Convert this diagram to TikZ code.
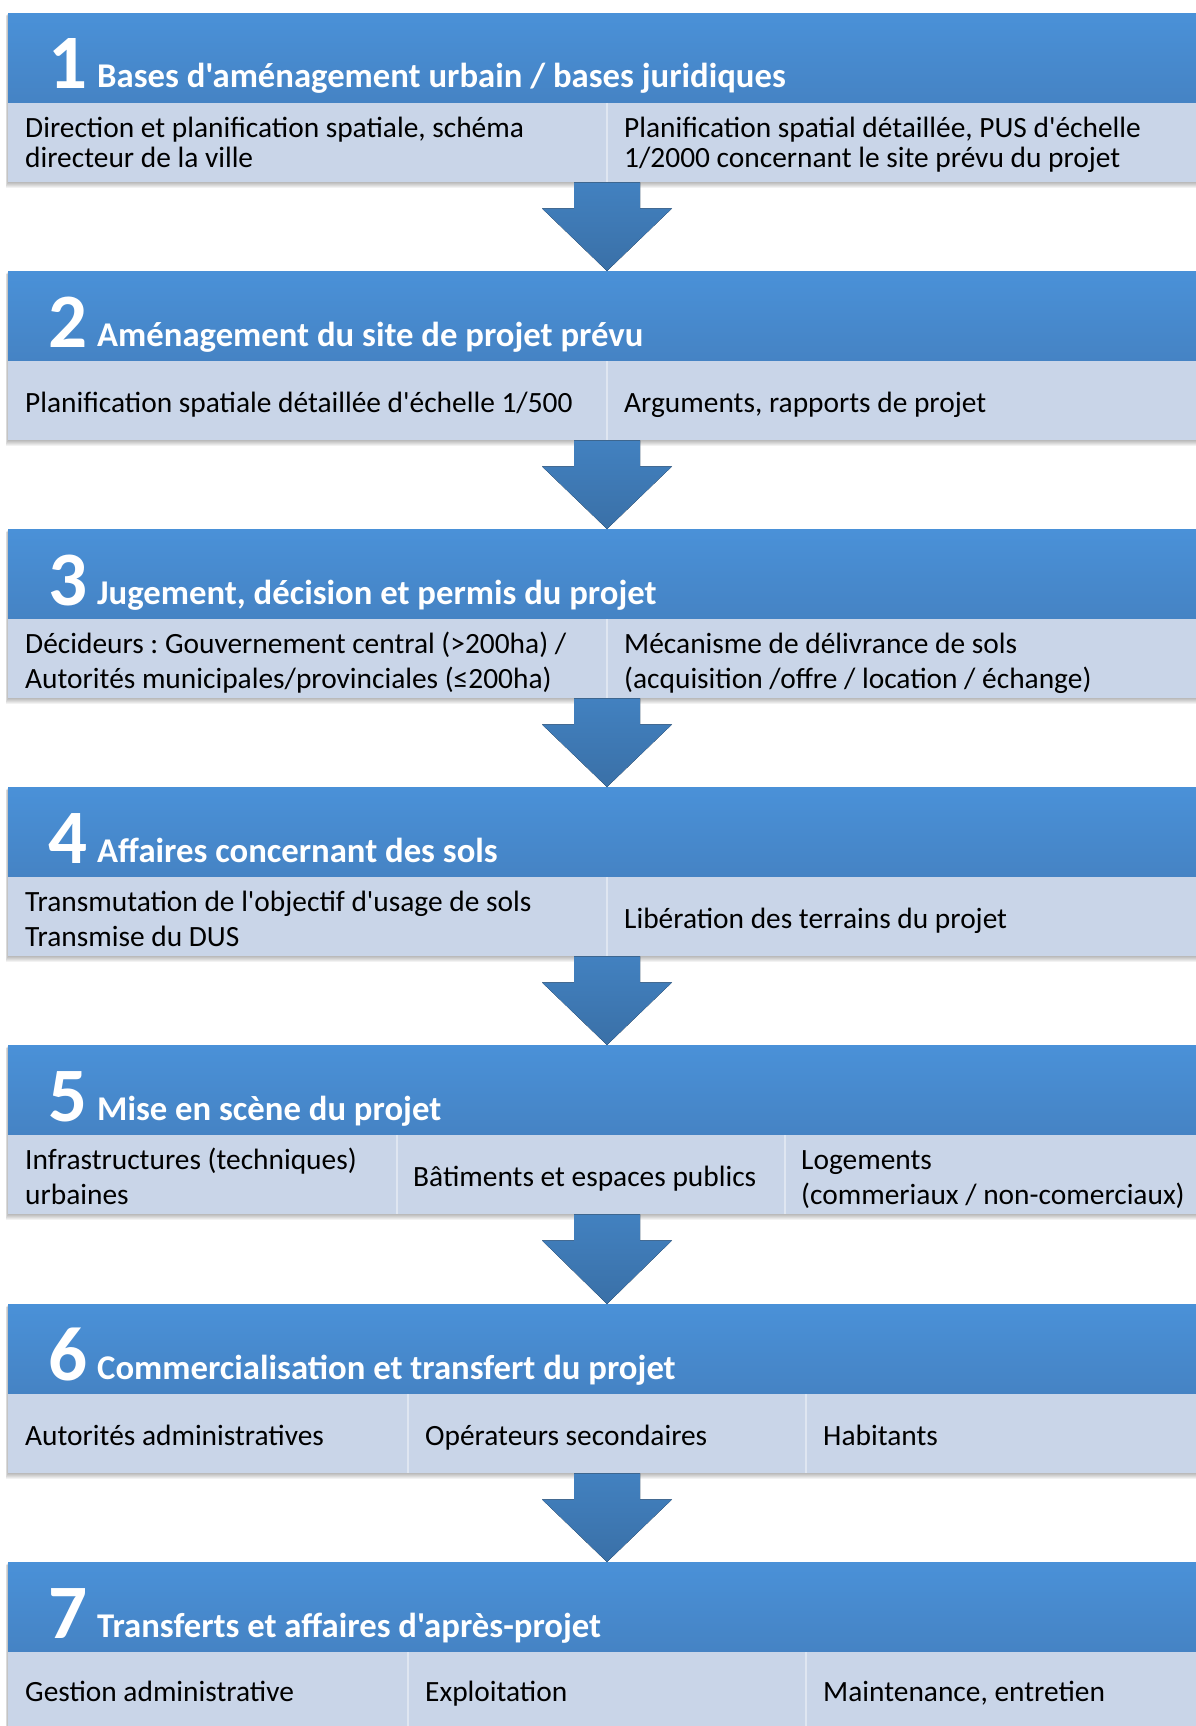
\documentclass[tikz,border=0pt]{standalone}
\usepackage{fontspec}
\setmainfont{Carlito}[Ligatures=TeXOff]
\usetikzlibrary{calc}
\frenchspacing
\definecolor{hdrtop}{HTML}{4A91D8}
\definecolor{hdrbot}{HTML}{4583C4}
\definecolor{subfill}{HTML}{C9D5E8}
\definecolor{divcol}{HTML}{DFE6F1}
\definecolor{arrtop}{HTML}{4281C0}
\definecolor{arrbot}{HTML}{3A70A7}
\tikzset{
 hdr/.style={rectangle, anchor=north west, inner sep=0pt, minimum height=90pt, minimum width=1222pt, top color=hdrtop, bottom color=hdrbot, draw=none},
 cell/.style={rectangle, anchor=north west, inner sep=0pt, minimum height=79pt, fill=subfill, draw=none},
 txt/.style={anchor=west, inner sep=0pt, align=left, text=black, font={\fontsize{29.4}{35}\selectfont\frenchspacing}},
 tight/.style={font={\fontsize{29.4}{29}\selectfont\frenchspacing}},
 num/.style={anchor=base west, inner sep=0pt, text=white, font={\fontsize{77}{77}\selectfont\bfseries}},
 ttl/.style={anchor=base west, inner sep=0pt, text=white, font={\fontsize{34.7}{40}\selectfont\bfseries}},
 divider/.style={draw=divcol, line width=2pt},
 blockarrow/.style={top color=arrtop, bottom color=arrbot, draw=none},
 shadowfill/.style={fill=black, opacity=0.05, draw=none},
}
\begin{document}
\begin{tikzpicture}[x=1pt,y=-1pt]
\useasboundingbox (0,0) rectangle (1196,1726);
\clip (0,0) rectangle (1196,1726);
\coordinate (mid) at (607,0);

% soft shadows of the blocks
\foreach \t/\b in {13/182, 271/440, 529/698, 787/956, 1045/1214, 1304/1473, 1562/1741}{
  \foreach \i in {1,...,6}{
    \fill[shadowfill] (8-\i*0.4, \t+\i*0.5) rectangle (1230, \b+\i);
  }
}

% ---------- block 1
\node[hdr] (h1) at (8,13) {};
\node[cell, minimum width=599pt] (c1a) at (8,103) {};
\node[cell, minimum width=623pt] (c1b) at (607,103) {};
\draw[divider] (c1a.north east) -- (c1a.south east);
\node[num] (n1) at (48,89) {1};
\node[ttl] (l1) at (97,88) {Bases d'aménagement urbain / bases juridiques};
\node[txt, tight] (t1a) at ($(c1a.west)+(17,4)$) {\strut Direction et planification spatiale, schéma\\directeur de la ville\strut};
\node[txt, tight] (t1b) at ($(c1b.west)+(17,4)$) {\strut Planification spatial détaillée, PUS d'échelle\\1/2000 concernant le site prévu du projet\strut};

% ---------- block 2
\node[hdr] (h2) at (8,271) {};
\node[cell, minimum width=599pt] (c2a) at (8,361) {};
\node[cell, minimum width=623pt] (c2b) at (607,361) {};
\draw[divider] (c2a.north east) -- (c2a.south east);
\node[num] (n2) at (48,347) {2};
\node[ttl] (l2) at (97,346) {Aménagement du site de projet prévu};
\node[txt] (t2a) at ($(c2a.west)+(17,5)$) {\strut Planification spatiale détaillée d'échelle 1/500};
\node[txt] (t2b) at ($(c2b.west)+(17,5)$) {\strut Arguments, rapports de projet};

% ---------- block 3
\node[hdr] (h3) at (8,529) {};
\node[cell, minimum width=599pt] (c3a) at (8,619) {};
\node[cell, minimum width=623pt] (c3b) at (607,619) {};
\draw[divider] (c3a.north east) -- (c3a.south east);
\node[num] (n3) at (48,605) {3};
\node[ttl] (l3) at (97,604) {Jugement, décision et permis du projet};
\node[txt] (t3a) at ($(c3a.west)+(17,5)$) {\strut Décideurs : Gouvernement central (>200ha) /\\Autorités municipales/provinciales (≤200ha)\strut};
\node[txt] (t3b) at ($(c3b.west)+(17,5)$) {\strut Mécanisme de délivrance de sols\\(acquisition /offre / location / échange)\strut};

% ---------- block 4
\node[hdr] (h4) at (8,787) {};
\node[cell, minimum width=599pt] (c4a) at (8,877) {};
\node[cell, minimum width=623pt] (c4b) at (607,877) {};
\draw[divider] (c4a.north east) -- (c4a.south east);
\node[num] (n4) at (48,863) {4};
\node[ttl] (l4) at (97,862) {Affaires concernant des sols};
\node[txt] (t4a) at ($(c4a.west)+(17,5)$) {\strut Transmutation de l'objectif d'usage de sols\\Transmise du DUS\strut};
\node[txt] (t4b) at ($(c4b.west)+(17,5)$) {\strut Libération des terrains du projet};

% ---------- block 5
\node[hdr] (h5) at (8,1045) {};
\node[cell, minimum width=389pt] (c5a) at (8,1135) {};
\node[cell, minimum width=388pt] (c5b) at (397,1135) {};
\node[cell, minimum width=445pt] (c5c) at (785,1135) {};
\draw[divider] (c5a.north east) -- (c5a.south east);
\draw[divider] (c5b.north east) -- (c5b.south east);
\node[num] (n5) at (48,1121) {5};
\node[ttl] (l5) at (97,1120) {Mise en scène du projet};
\node[txt] (t5a) at ($(c5a.west)+(17,5)$) {\strut Infrastructures (techniques)\\urbaines\strut};
\node[txt] (t5b) at ($(c5b.west)+(16,5)$) {\strut Bâtiments et espaces publics};
\node[txt] (t5c) at ($(c5c.west)+(16,5)$) {\strut Logements\\(commeriaux / non-comerciaux)\strut};

% ---------- block 6
\node[hdr] (h6) at (8,1304) {};
\node[cell, minimum width=400pt] (c6a) at (8,1394) {};
\node[cell, minimum width=398pt] (c6b) at (408,1394) {};
\node[cell, minimum width=424pt] (c6c) at (806,1394) {};
\draw[divider] (c6a.north east) -- (c6a.south east);
\draw[divider] (c6b.north east) -- (c6b.south east);
\node[num] (n6) at (48,1380) {6};
\node[ttl] (l6) at (97,1379) {Commercialisation et transfert du projet};
\node[txt] (t6a) at ($(c6a.west)+(17,5)$) {\strut Autorités administratives};
\node[txt] (t6b) at ($(c6b.west)+(17,5)$) {\strut Opérateurs secondaires};
\node[txt] (t6c) at ($(c6c.west)+(17,5)$) {\strut Habitants};

% ---------- block 7
\node[hdr] (h7) at (8,1562) {};
\node[cell, minimum width=400pt] (c7a) at (8,1652) {};
\node[cell, minimum width=398pt] (c7b) at (408,1652) {};
\node[cell, minimum width=424pt] (c7c) at (806,1652) {};
\draw[divider] (c7a.north east) -- (c7a.south east);
\draw[divider] (c7b.north east) -- (c7b.south east);
\node[num] (n7) at (48,1638) {7};
\node[ttl] (l7) at (97,1637) {Transferts et affaires d'après-projet};
\node[txt] (t7a) at ($(c7a.west)+(17,3)$) {\strut Gestion administrative};
\node[txt] (t7b) at ($(c7b.west)+(17,3)$) {\strut Exploitation};
\node[txt] (t7c) at ($(c7c.west)+(17,3)$) {\strut Maintenance, entretien};

% ---------- block arrows
\foreach \a/\b in {c1a/h2, c2a/h3, c3a/h4, c4a/h5, c5a/h6, c6a/h7}{
  \coordinate (s) at (mid |- \a.south);
  \coordinate (e) at (mid |- \b.north);
  \foreach \i in {1,...,4}{
    \fill[shadowfill, opacity=0.07, xshift=\i*0.3pt, yshift=-\i pt]
      ($(s)+(-33,0)$) -- ($(s)+(33,0)$) -- ($(s)+(33,26)$) -- ($(s)+(65,26)$) -- (e)
      -- ($(s)+(-65,26)$) -- ($(s)+(-33,26)$) -- cycle;
  }
  \fill[blockarrow]
    ($(s)+(-33,0)$) -- ($(s)+(33,0)$) -- ($(s)+(33,26)$) -- ($(s)+(65,26)$) -- (e)
    -- ($(s)+(-65,26)$) -- ($(s)+(-33,26)$) -- cycle;
}
\end{tikzpicture}
\end{document}
